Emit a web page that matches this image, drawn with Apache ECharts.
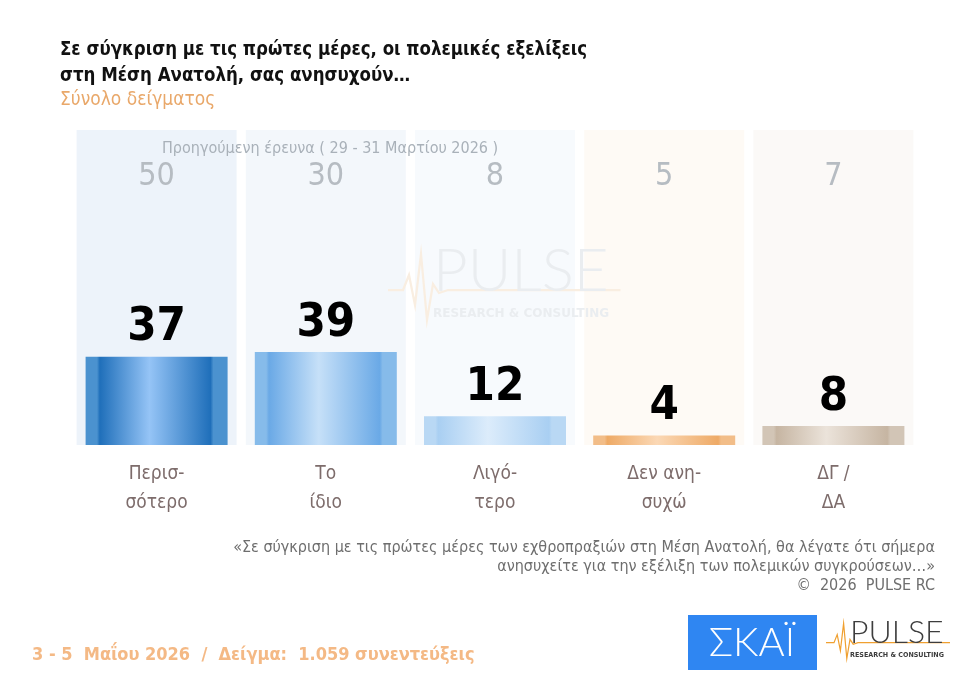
<!DOCTYPE html>
<html>
<head>
<meta charset="utf-8">
<title>PULSE - Μέση Ανατολή</title>
<script src="https://cdn.jsdelivr.net/npm/echarts@6/dist/echarts.min.js"></script>
<style>
  html, body { margin: 0; padding: 0; background: #fff; }
  #echart { width: 979px; height: 685px; }
</style>
</head>
<body>
<div id="echart"></div>
<script>
// δεδομένα
const categories = ["Περισ-\nσότερο", "Το\nίδιο", "Λιγό-\nτερο", "Δεν ανη-\nσυχώ", "ΔΓ /\nΔΑ"];
const currentValues = [37, 39, 12, 4, 8];
const previousValues = [50, 30, 8, 5, 7];

const NARROW = '"Liberation Sans Narrow", "DejaVu Sans Condensed", sans-serif';
const Y_MAX = 132;

// χρώματα ανά στήλη (άκρη, κέντρο, φόντο)
const barColors = [
  { edge: "#1f6fba", side: "#4b92cf", mid: "#95c4f6", bg: "#edf3fa" },
  { edge: "#6aa9e6", side: "#86bbea", mid: "#c6e0f8", bg: "#f3f7fb" },
  { edge: "#a9cff2", side: "#b9d8f4", mid: "#dcecfb", bg: "#f7fafd" },
  { edge: "#eeaa66", side: "#f2bd88", mid: "#fbd8b5", bg: "#fefaf5" },
  { edge: "#c6b5a2", side: "#d2c5b6", mid: "#ebe3da", bg: "#fbf9f7" }
];

function cylinder(c) {
  return new echarts.graphic.LinearGradient(0, 0, 1, 0, [
    { offset: 0, color: c.side },
    { offset: 0.08, color: c.side },
    { offset: 0.1, color: c.edge },
    { offset: 0.45, color: c.mid },
    { offset: 0.88, color: c.edge },
    { offset: 0.9, color: c.side },
    { offset: 1, color: c.side }
  ]);
}

function pulseLogo(x, y, scale, textColor, lineColor, z) {
  return {
    type: "group",
    x: x,
    y: y,
    scaleX: scale,
    scaleY: scale,
    silent: true,
    z: z,
    children: [
      {
        type: "polyline",
        z: z,
        shape: { points: [[0, 32], [10, 32], [14, 22], [18, 42], [22, 8], [26, 52], [30, 28], [34, 34], [40, 32], [155, 32]] },
        style: { stroke: lineColor, lineWidth: 1.5, fill: null }
      },
      {
        type: "text",
        z: z,
        x: 30, y: 0,
        style: { text: "PULSE", font: "300 40px Lato, sans-serif", fill: textColor }
      },
      {
        type: "text",
        z: z,
        x: 30, y: 44,
        style: { text: "RESEARCH & CONSULTING", font: "bold 8px 'DejaVu Sans', sans-serif", fill: textColor }
      }
    ]
  };
}

const chart = echarts.init(document.getElementById("echart"));
chart.setOption({
  backgroundColor: "#fff",
  animation: false,
  title: {
    left: 55,
    top: 32,
    text: "Σε σύγκριση με τις πρώτες μέρες, οι πολεμικές εξελίξεις\nστη Μέση Ανατολή, σας ανησυχούν…",
    subtext: "Σύνολο δείγματος",
    itemGap: 2,
    textStyle: { fontFamily: NARROW, fontWeight: "bold", fontSize: 18.5, lineHeight: 26, color: "#111" },
    subtextStyle: { fontFamily: NARROW, fontSize: 19, color: "#e9a86a" }
  },
  grid: { left: 72, width: 846, top: 130, height: 315 },
  xAxis: [
    {
      type: "category",
      data: categories,
      axisLine: { show: false },
      axisTick: { show: false },
      axisLabel: { margin: 15, fontFamily: NARROW, fontSize: 19, lineHeight: 29, color: "#7d6c6b" }
    },
    { type: "category", data: categories, show: false }
  ],
  yAxis: { type: "value", min: 0, max: Y_MAX, show: false, splitLine: { show: false } },
  series: [
    {
      // προηγούμενη έρευνα (φόντο)
      type: "bar",
      xAxisIndex: 1,
      barWidth: 160,
      silent: true,
      z: 1,
      data: previousValues.map((v, i) => ({ value: Y_MAX, itemStyle: { color: barColors[i].bg } })),
      label: {
        show: true,
        position: "insideTop",
        distance: 31,
        formatter: p => previousValues[p.dataIndex],
        fontFamily: NARROW,
        fontSize: 32,
        color: "#b6bcc2"
      }
    },
    {
      type: "bar",
      xAxisIndex: 0,
      barWidth: 142,
      z: 3,
      data: currentValues.map((v, i) => ({ value: v, itemStyle: { color: cylinder(barColors[i]) } })),
      label: {
        show: true,
        position: "top",
        distance: 5,
        fontFamily: NARROW,
        fontWeight: "bold",
        fontSize: 47,
        color: "#000"
      }
    }
  ],
  graphic: [
    // υδατογράφημα
    pulseLogo(388, 242, 1.5, "#eaedf0", "#f9eee1", 2),
    {
      type: "text",
      left: 162,
      top: 141,
      z: 4,
      style: { text: "Προηγούμενη έρευνα ( 29 - 31 Μαρτίου 2026 )", font: "16px " + NARROW, fill: "#a9b1b9" }
    },
    {
      type: "text",
      x: 935,
      y: 538,
      style: {
        text: "«Σε σύγκριση με τις πρώτες μέρες των εχθροπραξιών στη Μέση Ανατολή, θα λέγατε ότι σήμερα\nανησυχείτε για την εξέλιξη των πολεμικών συγκρούσεων…»\n©  2026  PULSE RC",
        font: "16px " + NARROW,
        lineHeight: 19,
        align: "right",
        fill: "#6e6e6e"
      }
    },
    {
      type: "text",
      left: 32,
      top: 646,
      style: { text: "3 - 5  Μαΐου 2026  /  Δείγμα:  1.059 συνεντεύξεις", font: "bold 18px " + NARROW, fill: "#f4b985" }
    },
    // ΣΚΑΪ
    {
      type: "rect",
      shape: { x: 688, y: 615, width: 129, height: 55 },
      style: { fill: "#2f86f2" }
    },
    {
      type: "text",
      x: 752, y: 643,
      style: { text: "ΣΚΑΪ", font: "300 40px Lato, sans-serif", fill: "#fff", align: "center", verticalAlign: "middle" }
    },
    pulseLogo(826, 617, 0.8, "#3d3d3d", "#f0a030", 5)
  ]
});
</script>
</body>
</html>
